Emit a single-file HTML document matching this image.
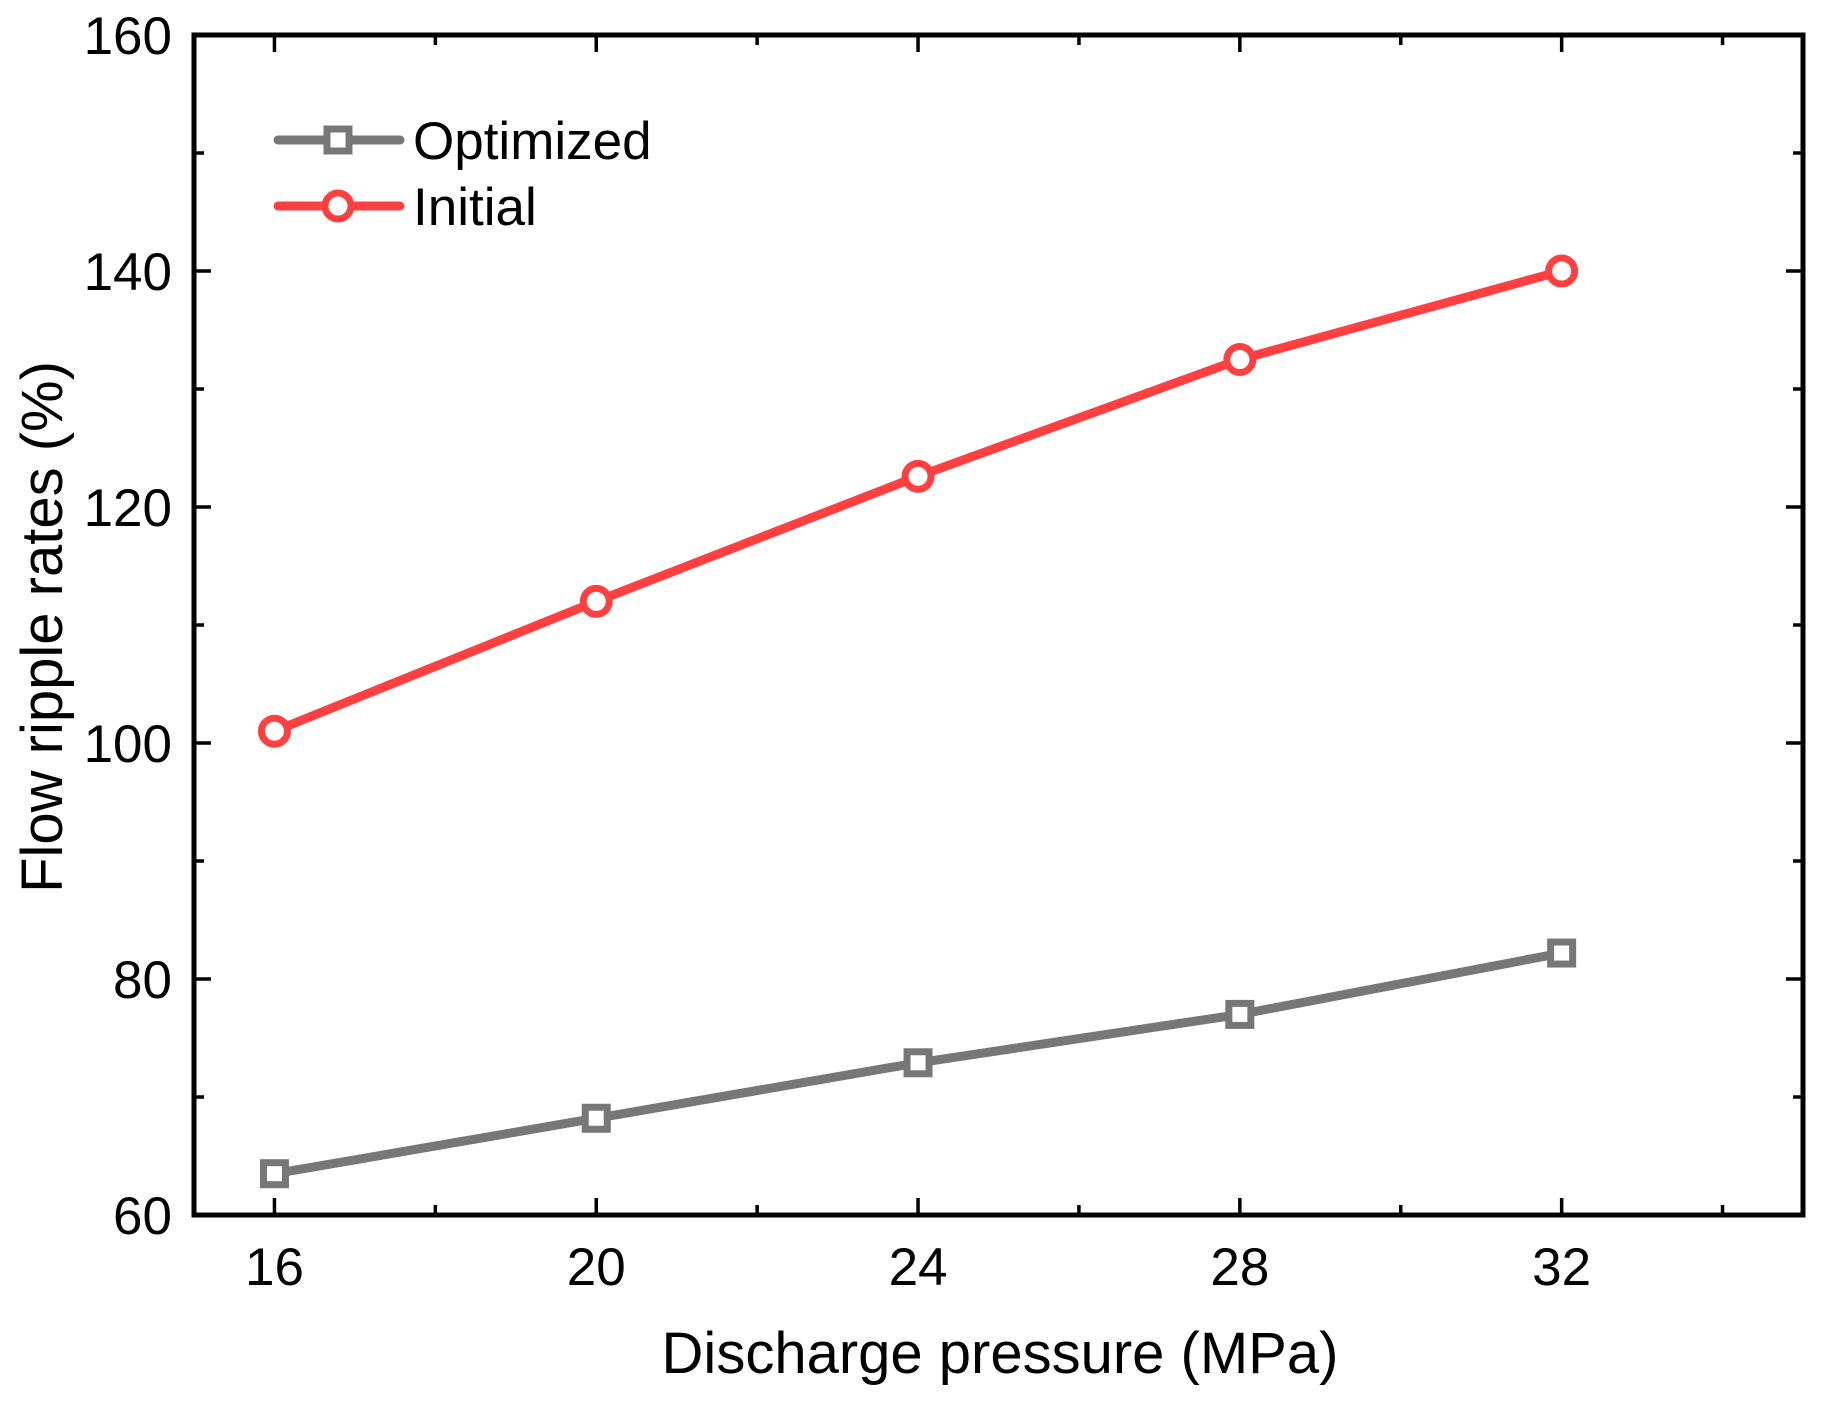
<!DOCTYPE html>
<html><head><meta charset="utf-8"><style>
body{margin:0;background:#fff}
svg{display:block;font-family:"Liberation Sans",Arial,sans-serif}
</style></head><body>
<svg id="chart" width="1830" height="1402" viewBox="0 0 1830 1402"></svg>
<script>
const categories=[16,20,24,28,32];
const optimizedValues=[63.5,68.2,72.9,77.0,82.2];
const initialValues=[101.0,112.0,122.6,132.5,140.0];
const yTicks=[60,80,100,120,140,160];
const xTicks=[16,20,24,28,32];
const NS="http://www.w3.org/2000/svg";
const svg=document.getElementById('chart');
const L=194,R=1803,T=35,B=1215,X0=15,X1=35,Y0=60,Y1=160;
const sx=v=>L+(v-X0)/(X1-X0)*(R-L);
const sy=v=>B-(v-Y0)/(Y1-Y0)*(B-T);
function mk(tag,attrs,parent){const e=document.createElementNS(NS,tag);for(const k in attrs)e.setAttribute(k,attrs[k]);(parent||svg).appendChild(e);return e;}
const tg=mk('g',{stroke:'#000','stroke-width':3.5});


for(let v=16;v<=34;v+=2){const maj=(v%4===0);const len=maj?17:10;
 mk('line',{x1:sx(v),x2:sx(v),y1:B,y2:B-len},tg);mk('line',{x1:sx(v),x2:sx(v),y1:T,y2:T+len},tg);}
for(let v=70;v<160;v+=10){const maj=(v%20===0);const len=maj?17:10;
 mk('line',{x1:L,x2:L+len,y1:sy(v),y2:sy(v)},tg);mk('line',{x1:R,x2:R-len,y1:sy(v),y2:sy(v)},tg);}
const frame=mk('rect',{x:L,y:T,width:R-L,height:B-T,fill:'none',stroke:'#000','stroke-width':5});


yTicks.forEach(v=>{const t=mk('text',{x:172,y:sy(v)+19,'text-anchor':'end','font-size':53});t.textContent=v;
 
 });
xTicks.forEach(v=>{const t=mk('text',{x:sx(v),y:1285,'text-anchor':'middle','font-size':53});t.textContent=v;
 
 });
const xt=mk('text',{x:1000,y:1373,'text-anchor':'middle','font-size':58});xt.textContent='Discharge pressure (MPa)';


const yt=mk('text',{x:0,y:0,'text-anchor':'middle','font-size':58,transform:'translate(62,627) rotate(-90)'});yt.textContent='Flow ripple rates (%)';


function series(vals,color,shape,name){
 const g=mk('g',{});
 
 
 const pts=vals.map((v,i)=>sx(categories[i])+','+sy(v)).join(' ');
 const pl=mk('polyline',{points:pts,fill:'none',stroke:color,'stroke-width':9,'stroke-linejoin':'round'},g);
 
 
 vals.forEach((v,i)=>{let m;
  if(shape==='sq')m=mk('rect',{x:sx(categories[i])-11,y:sy(v)-11,width:22,height:22,fill:'#fff',stroke:color,'stroke-width':7},g);
  else m=mk('circle',{cx:sx(categories[i]),cy:sy(v),r:13,fill:'#fff',stroke:color,'stroke-width':7},g);
  
  });
}
series(optimizedValues,'#777777','sq','optimized');
series(initialValues,'#ff4040','circ','initial');
const lg=mk('g',{});


mk('line',{x1:278,x2:400,y1:140,y2:140,stroke:'#777','stroke-width':9,'stroke-linecap':'round'},lg);
mk('rect',{x:327,y:129,width:22,height:22,fill:'#fff',stroke:'#777','stroke-width':7},lg);
const l1=mk('text',{x:413,y:159,'font-size':53},lg);l1.textContent='Optimized';


mk('line',{x1:278,x2:400,y1:206,y2:206,stroke:'#ff4040','stroke-width':9,'stroke-linecap':'round'},lg);
mk('circle',{cx:338,cy:206,r:13,fill:'#fff',stroke:'#ff4040','stroke-width':7},lg);
const l2=mk('text',{x:413,y:225,'font-size':53},lg);l2.textContent='Initial';


</script>
</body></html>
